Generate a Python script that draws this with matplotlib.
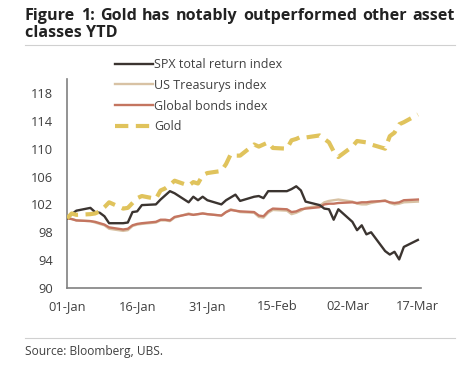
import matplotlib
matplotlib.use("Agg")
import matplotlib.pyplot as plt
import matplotlib.dates as mdates
import pandas as pd

# trading days, 2025 YTD (01-Jan = base 100)
dates = pd.to_datetime([
    "2025-01-01", "2025-01-02", "2025-01-03", "2025-01-06", "2025-01-07", "2025-01-08",
    "2025-01-09", "2025-01-10", "2025-01-13", "2025-01-14", "2025-01-15", "2025-01-16",
    "2025-01-17", "2025-01-20", "2025-01-21", "2025-01-22", "2025-01-23", "2025-01-24",
    "2025-01-27", "2025-01-28", "2025-01-29", "2025-01-30", "2025-01-31", "2025-02-03",
    "2025-02-04", "2025-02-05", "2025-02-06", "2025-02-07", "2025-02-10", "2025-02-11",
    "2025-02-12", "2025-02-13", "2025-02-14", "2025-02-17", "2025-02-18", "2025-02-19",
    "2025-02-20", "2025-02-21", "2025-02-24", "2025-02-25", "2025-02-26", "2025-02-27",
    "2025-02-28", "2025-03-03", "2025-03-04", "2025-03-05", "2025-03-06", "2025-03-07",
    "2025-03-10", "2025-03-11", "2025-03-12", "2025-03-13", "2025-03-14", "2025-03-17",
])

spx = [100.0, 100.6, 101.1, 101.5, 100.9, 100.8, 100.3, 99.3, 99.3, 99.4, 100.9, 101.0,
       101.9, 102.0, 102.7, 103.3, 103.9, 103.6, 102.3, 103.1, 102.6, 103.1, 102.6, 102.0,
       102.6, 103.0, 103.4, 102.5, 103.1, 103.2, 102.9, 103.9, 103.9, 103.9, 104.2, 104.6,
       104.0, 102.4, 101.9, 101.4, 101.3, 99.8, 101.3, 99.5, 98.3, 99.0, 97.7, 98.0,
       95.3, 94.8, 95.2, 94.1, 95.9, 96.9]

treasurys = [100.0, 99.9, 99.7, 99.6, 99.4, 99.2, 99.0, 98.5, 98.2, 98.3, 98.9, 99.1,
             99.2, 99.4, 99.7, 99.7, 99.6, 100.1, 100.7, 100.5, 100.6, 100.7, 100.6, 100.4,
             100.9, 101.3, 101.1, 100.9, 100.8, 100.2, 100.1, 100.8, 101.2, 101.1, 100.6, 100.8,
             101.1, 101.5, 101.8, 102.3, 102.5, 102.6, 102.7, 102.4, 102.1, 102.0, 102.0, 102.2,
             102.6, 102.2, 102.0, 102.1, 102.3, 102.4]

global_bonds = [100.0, 99.9, 99.7, 99.6, 99.5, 99.3, 99.1, 98.7, 98.4, 98.5, 99.0, 99.2,
                99.3, 99.5, 99.8, 99.8, 99.7, 100.2, 100.6, 100.5, 100.6, 100.7, 100.6, 100.4,
                100.9, 101.2, 101.1, 101.0, 100.9, 100.4, 100.3, 101.0, 101.4, 101.3, 100.9, 101.0,
                101.3, 101.4, 101.6, 102.0, 102.1, 102.1, 102.2, 102.3, 102.2, 102.3, 102.3, 102.4,
                102.5, 102.3, 102.2, 102.3, 102.6, 102.7]

gold = [100.0, 100.7, 100.5, 100.6, 100.7, 101.0, 101.6, 102.3, 101.4, 101.5, 102.2, 102.9,
        103.2, 102.8, 104.0, 104.3, 104.8, 105.4, 104.7, 105.2, 105.0, 106.2, 106.5, 106.8,
        107.8, 109.2, 109.0, 109.0, 110.6, 110.3, 110.6, 110.9, 110.1, 110.0, 111.2, 111.4,
        111.7, 111.6, 111.9, 111.4, 110.9, 109.6, 108.8, 110.3, 111.1, 111.0, 110.9, 110.6,
        110.0, 111.8, 112.3, 113.5, 113.8, 114.9]

tick_dates = pd.to_datetime(["2025-01-01", "2025-01-16", "2025-01-31",
                             "2025-02-15", "2025-03-02", "2025-03-17"])
y_ticks = [90, 94, 98, 102, 106, 110, 114, 118]

title_line1 = "Figure 1: Gold has notably outperformed other asset"
title_line2 = "classes YTD"

plt.rcParams['font.family'] = ['Open Sans', 'DejaVu Sans']
text_col = '#404040'
W, H = 470, 366

fig = plt.figure(figsize=(4.7, 3.66), dpi=100)
ax = fig.add_axes([67 / W, 1 - 288 / H, 354 / W, 209 / H])

ax.plot(dates, spx, color='#3b3430', lw=1.7, label='SPX total return index', zorder=4)
ax.plot(dates, treasurys, color='#d8c2a4', lw=1.7, label='US Treasurys index', zorder=2)
ax.plot(dates, global_bonds, color='#c47560', lw=1.7, label='Global bonds index', zorder=3)
ax.plot(dates, gold, color='#e0c35c', lw=3.0, ls=(0, (3.2, 1.8)), label='Gold', zorder=5)

ax.set_ylim(90, 120)
ax.set_yticks(y_ticks)
ax.set_xlim(pd.Timestamp("2025-01-01"), pd.Timestamp("2025-03-17 16:00"))
ax.set_xticks(tick_dates)
ax.xaxis.set_major_formatter(mdates.DateFormatter('%d-%b'))

for side in ['top', 'right']:
    ax.spines[side].set_visible(False)
for side in ['left', 'bottom']:
    ax.spines[side].set_color('#808080')
    ax.spines[side].set_linewidth(1.2)
ax.tick_params(axis='both', length=0, labelsize=9.3, colors=text_col)
ax.tick_params(axis='y', pad=10)
ax.tick_params(axis='x', pad=9)

ax.legend(loc='upper left', bbox_to_anchor=(115 / W, 1 - 58 / H),
          bbox_transform=fig.transFigure, frameon=False, fontsize=9,
          handlelength=3.0, handletextpad=0.15, labelspacing=0.62,
          borderaxespad=0, borderpad=0, labelcolor=text_col)

# title: first line justified between the rules' ends
title_kw = dict(fontsize=11.6, fontweight='bold', color='#222222', va='top', ha='left')
renderer = fig.canvas.get_renderer()
words = title_line1.split()
word_artists = [fig.text(0, 1 - 8 / H, w, **title_kw) for w in words]
widths = [t.get_window_extent(renderer).width for t in word_artists]
gap = (430 - sum(widths)) / (len(words) - 1)
x = 25
for t, w in zip(word_artists, widths):
    t.set_x(x / W)
    x += w + gap
fig.text(25 / W, 1 - 25 / H, title_line2, **title_kw)

fig.add_artist(plt.Line2D([25 / W, 455 / W], [1 - 45 / H, 1 - 45 / H],
                          color='#d0d0d0', lw=0.8))
fig.add_artist(plt.Line2D([25 / W, 455 / W], [1 - 338 / H, 1 - 338 / H],
                          color='#d0d0d0', lw=0.8))
fig.text(25 / W, 1 - 352 / H, "Source: Bloomberg, UBS.", fontsize=8.6,
         color=text_col, va='center', ha='left')

fig.savefig('out.png', dpi=100)
